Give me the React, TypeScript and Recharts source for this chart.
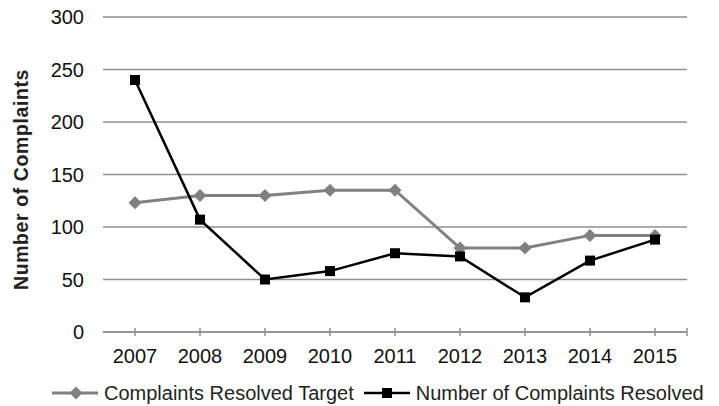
import React from 'react';
import { LineChart, Line, XAxis, YAxis, CartesianGrid, Legend } from 'recharts';

const years = ['2007', '2008', '2009', '2010', '2011', '2012', '2013', '2014', '2015'];
const resolvedTarget = [123, 130, 130, 135, 135, 80, 80, 92, 92];
const complaintsResolved = [240, 107, 50, 58, 75, 72, 33, 68, 88];
const yTicks = [0, 50, 100, 150, 200, 250, 300];

const W = 719;
const H = 406;
const FONT = '"Liberation Sans", Arial, sans-serif';
const GRID = '#8f8f8f';
const TARGET_COLOR = '#808080';
const RESOLVED_COLOR = '#000000';
const X_TICK_OFFSET = 17;
const HALF_STEP = 32;
const FS = 20;

const data = years.map((year, i) => ({
  year,
  target: resolvedTarget[i],
  resolved: complaintsResolved[i],
}));

const Diamond = (props: any) => {
  const { cx, cy } = props;
  if (cx == null || cy == null) return null;
  const r = 6.5;
  return (
    <polygon
      points={`${cx},${cy - r} ${cx + r},${cy} ${cx},${cy + r} ${cx - r},${cy}`}
      fill={TARGET_COLOR}
    />
  );
};

const Square = (props: any) => {
  const { cx, cy } = props;
  if (cx == null || cy == null) return null;
  return <rect x={cx - 5} y={cy - 5} width={10} height={10} fill={RESOLVED_COLOR} />;
};

const XTick = (props: any) => {
  const { x, y, payload, index } = props;
  const axisY = y - X_TICK_OFFSET;
  const last = index === years.length - 1;
  return (
    <g>
      <line x1={x} x2={x} y1={axisY - 4} y2={axisY + 4} stroke={GRID} strokeWidth={1.5} />
      {last && (
        <line x1={x + HALF_STEP} x2={x + HALF_STEP} y1={axisY - 4} y2={axisY + 4} stroke={GRID} strokeWidth={1.5} />
      )}
      <text x={x} y={y} dy="0.71em" textAnchor="middle" fill="#111" fontSize={FS} fontFamily={FONT}>
        {payload.value}
      </text>
    </g>
  );
};

const YLabel = (props: any) => {
  const { viewBox } = props;
  const cx = viewBox.x + 21;
  const cy = viewBox.y + viewBox.height / 2 + 5;
  return (
    <text
      x={cx}
      y={cy}
      transform={`rotate(-90, ${cx}, ${cy})`}
      textAnchor="middle"
      dominantBaseline="central"
      fontWeight="bold"
      fontSize={19.5}
      letterSpacing={0.6}
      fill="#222"
      fontFamily={FONT}
    >
      Number of Complaints
    </text>
  );
};

const LegendIcon = ({ kind }: { kind: 'diamond' | 'square' }) => (
  <svg width={46} height={20} style={{ display: 'block' }}>
    <line
      x1={0}
      x2={46}
      y1={10}
      y2={10}
      stroke={kind === 'diamond' ? TARGET_COLOR : RESOLVED_COLOR}
      strokeWidth={kind === 'diamond' ? 3 : 2.5}
    />
    {kind === 'diamond' ? <Diamond cx={24} cy={10} /> : <Square cx={23} cy={10} />}
  </svg>
);

const CustomLegend = () => (
  <div
    style={{
      display: 'flex',
      alignItems: 'center',
      paddingLeft: 52,
      fontFamily: FONT,
      fontSize: FS,
      color: '#222',
      height: 26,
      whiteSpace: 'nowrap',
    }}
  >
    <LegendIcon kind="diamond" />
    <span style={{ marginLeft: 6, marginRight: 10 }}>Complaints Resolved Target</span>
    <LegendIcon kind="square" />
    <span style={{ marginLeft: 6 }}>Number of Complaints Resolved</span>
  </div>
);

export default function App() {
  return (
    <div style={{ width: W, height: H, background: '#fff' }}>
      <style>{'body{margin:0}'}</style>
      <LineChart width={W} height={H} data={data} margin={{ top: 17, right: 32, left: 0, bottom: 0 }}>
        <CartesianGrid vertical={false} stroke={GRID} strokeWidth={1.5} />
        <XAxis
          dataKey="year"
          padding={{ left: HALF_STEP, right: HALF_STEP }}
          axisLine={{ stroke: GRID, strokeWidth: 1.5 }}
          tickLine={false}
          tickSize={0}
          tickMargin={X_TICK_OFFSET}
          tick={<XTick />}
          interval={0}
          height={48}
        />
        <YAxis
          domain={[0, 300]}
          ticks={yTicks}
          width={103}
          axisLine={false}
          tickLine={false}
          tickSize={0}
          tickMargin={19}
          tick={{ fill: '#111', fontSize: FS, fontFamily: FONT }}
          label={<YLabel />}
        />
        <Legend verticalAlign="bottom" height={26} content={<CustomLegend />} wrapperStyle={{ left: 0, width: W }} />
        <Line
          dataKey="target"
          stroke={TARGET_COLOR}
          strokeWidth={3}
          dot={<Diamond />}
          activeDot={false}
          isAnimationActive={false}
        />
        <Line
          dataKey="resolved"
          stroke={RESOLVED_COLOR}
          strokeWidth={2.5}
          dot={<Square />}
          activeDot={false}
          isAnimationActive={false}
        />
      </LineChart>
    </div>
  );
}
